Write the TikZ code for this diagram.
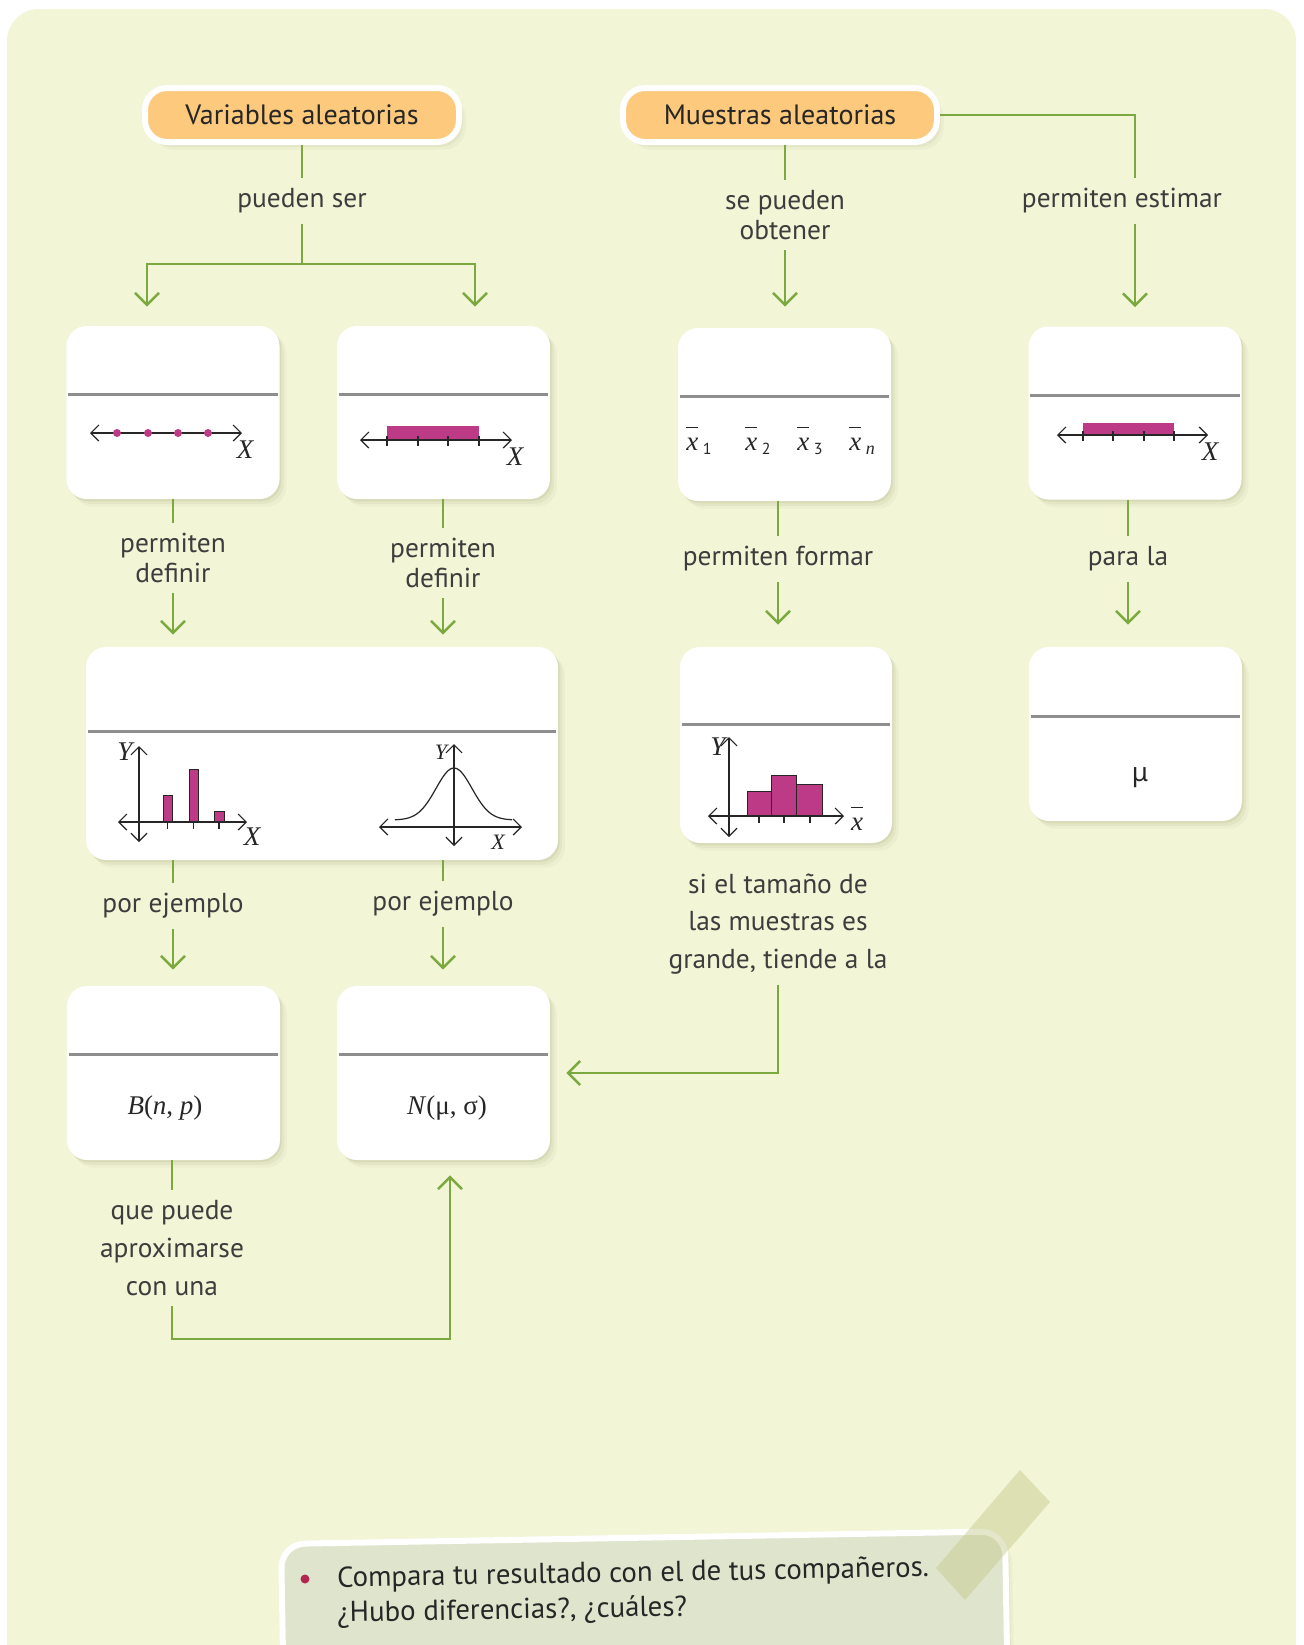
\documentclass[tikz,border=0pt]{standalone}
\usepackage{fontspec}
\setmainfont{PT Sans}
\newfontfamily\mathserif{Liberation Serif}
\newfontfamily\greeksans{Noto Sans}
\usetikzlibrary{positioning, arrows.meta, calc, shadows}
\definecolor{bgcol}{HTML}{F2F5D6}
\definecolor{greencol}{HTML}{7BA83F}
\definecolor{orangecol}{HTML}{FDC97C}
\definecolor{pinkcol}{HTML}{BD3A86}
\definecolor{dividercol}{HTML}{8E8E8E}
\definecolor{labelcol}{HTML}{3D3D3D}
\definecolor{notefill}{HTML}{DFE5CD}
\definecolor{tapecol}{HTML}{C4C88A}
\definecolor{bulletcol}{HTML}{B0264E}
\definecolor{shadowcol}{HTML}{7F8450}
\tikzset{
  softshadow/.style={
    drop shadow={shadow xshift=0.8pt, shadow yshift=-1pt, opacity=.12, fill=shadowcol},
    drop shadow={shadow xshift=2pt, shadow yshift=-2.4pt, opacity=.08, fill=shadowcol},
    drop shadow={shadow xshift=3.4pt, shadow yshift=-3.8pt, opacity=.05, fill=shadowcol}},
  card/.style={rectangle, fill=white, rounded corners=10pt, inner sep=0pt,
    minimum width=106.5pt, minimum height=86.5pt, softshadow},
  title/.style={rectangle, fill=orangecol, draw=white, line width=3pt, rounded corners=11pt,
    minimum width=157pt, minimum height=27pt, softshadow,
    font=\fontsize{14}{16}\selectfont, text=black!85},
  lbl/.style={font=\fontsize{13.7}{15}\selectfont, text=labelcol, align=center, inner sep=5pt},
  lblwide/.style={lbl, font=\fontsize{13.7}{18.8}\selectfont},
  conn/.style={draw=greencol, line width=1.25pt},
  arrow/.style={conn, ->},
  divider/.style={draw=dividercol, line width=1.5pt},
  axis/.style={draw=black!85, line width=0.6pt,
    {Straight Barb[length=4pt,width=8pt]}-{Straight Barb[length=4pt,width=8pt]}},
  tick/.style={draw=black!85, line width=0.6pt},
  bar/.style={fill=pinkcol, draw=black!85, line width=0.5pt},
  band/.style={fill=pinkcol},
  mathlbl/.style={inner sep=0pt, font=\mathserif\itshape\fontsize{13.5}{14}\selectfont, text=black!85},
  notebox/.style={rectangle, fill=notefill, draw=white, line width=3pt, rounded corners=12pt,
    softshadow},
  notetext/.style={inner sep=0pt, font=\fontsize{14.4}{17.5}\selectfont, text=black!85}
}
\newcommand{\carddivider}[2]{%
  \draw[divider] ([xshift=1pt,yshift=-#2]#1.north west) -- ([xshift=-1pt,yshift=-#2]#1.north east);
}
\newcommand{\xbar}[1]{$\overline{\vphantom{X}\mbox{\mathserif\itshape x}}_{\mbox{\,#1}}$}

\begin{document}
\begin{tikzpicture}[x=0.5pt, y=-0.5pt,
  >={Straight Barb[length=6pt, width=12pt]}]
  \useasboundingbox (0,0) rectangle (1303,1645);
  \clip (0,0) rectangle (1303,1645);
  \fill[white] (0,0) rectangle (1303,1645);
  \fill[bgcol, rounded corners=16pt] (7,9) rectangle (1296,1740);

  % titles
  \node[title] (Var) at (302,115) {Variables aleatorias};
  \node[title] (Mue) at (780,115) {Muestras aleatorias};

  % first row of cards
  \node[card] (A) at (173,412.5) {};
  \node[card] (B) at (443.5,412.5) {};
  \node[card] (C) at (784.5,414.5) {};
  \node[card] (D) at (1135,413) {};
  \carddivider{A}{34.5pt}
  \carddivider{B}{34.5pt}
  \carddivider{C}{34.5pt}
  \carddivider{D}{34.5pt}

  % second row
  \node[card, minimum width=236pt, minimum height=106.5pt] (E) at (322,753.5) {};
  \node[card, minimum width=106pt, minimum height=98pt] (F) at (786,745) {};
  \node[card, minimum height=87pt] (G) at (1135.5,734) {};
  \carddivider{E}{42.5pt}
  \carddivider{F}{39pt}
  \carddivider{G}{35pt}

  % third row
  \node[card, minimum height=87pt] (H) at (173.5,1073) {};
  \node[card, minimum height=87pt] (I) at (443.5,1073) {};
  \carddivider{H}{34.5pt}
  \carddivider{I}{34.5pt}

  % card A: discrete values
  \draw[axis] (90,433) -- (242,433);
  \foreach \d in {117,148,178,208}
    \fill[pinkcol] (\d,433) circle (2pt);
  \node[mathlbl] (xA) at (245,450) {X};

  % card B: interval
  \fill[band] (387,426) rectangle (479,440);
  \draw[axis] (360,440) -- (512,440);
  \foreach \t in {387,418,448,479}
    \draw[tick] (\t,436) -- (\t,446);
  \node[mathlbl] (xB) at (515,457) {X};

  % card C: sample means
  \foreach \p/\s in {686/\normalfont\fontsize{8}{8}\selectfont 1, 745/\normalfont\fontsize{8}{8}\selectfont 2,
                     797/\normalfont\fontsize{8}{8}\selectfont 3, 849/\mathserif\itshape\fontsize{9}{9}\selectfont n}
    \node[mathlbl, anchor=base west] at (\p,450) {\xbar{\s}};

  % card D: interval estimate
  \fill[band] (1083,423) rectangle (1174,435);
  \draw[axis] (1057,435) -- (1208,435);
  \foreach \t in {1083,1113,1144,1174}
    \draw[tick] (\t,431) -- (\t,441);
  \node[mathlbl] (xD) at (1210,452) {X};

  % card E: bar chart and bell curve
  \draw[bar] (163,822) rectangle (172,795);
  \draw[bar] (189,822) rectangle (198,769);
  \draw[bar] (214,822) rectangle (224,811);
  \foreach \t in {167.5,193.5,219}
    \draw[tick] (\t,822) -- (\t,829);
  \draw[axis] (139,842) -- (139,746);
  \draw[axis] (118,822) -- (247,822);
  \node[mathlbl] (yE) at (125,752) {Y};
  \node[mathlbl] (xE) at (252,837) {X};
  \draw[line width=0.6pt, black!85] plot[domain=395:512, samples=80, smooth]
    (\x, {820-52*exp(-((\x-454)/18)*((\x-454)/18)/2)});
  \draw[axis] (454,846) -- (454,744);
  \draw[axis] (379,827) -- (522,827);
  \node[mathlbl, font=\mathserif\itshape\fontsize{11}{12}\selectfont] (yN) at (441,752) {Y};
  \node[mathlbl, font=\mathserif\itshape\fontsize{11}{12}\selectfont] (xN) at (498,842) {X};

  % card F: histogram of means
  \draw[bar] (747,816) rectangle (771,791);
  \draw[bar] (771,816) rectangle (796,775);
  \draw[bar] (796,816) rectangle (822,784);
  \foreach \t in {759,784,810}
    \draw[tick] (\t,816) -- (\t,823);
  \draw[axis] (729,837) -- (729,737);
  \draw[axis] (708,816) -- (844,816);
  \node[mathlbl] (yF) at (718,747) {Y};
  \node[mathlbl, anchor=base] (xF) at (857,830) {$\overline{\vphantom{X}\mbox{\mathserif\itshape x}}$};

  % cards G, H, I
  \node[inner sep=0pt, font=\greeksans\fontsize{13}{14}\selectfont, text=black!85] (mu) at (1140,778) {μ};
  \node[inner sep=0pt, font=\mathserif\fontsize{13.5}{14}\selectfont, text=black!85] (binom) at (165,1108) {\textit{B}(\textit{n}, \textit{p})};
  \node[inner sep=0pt, font=\mathserif\fontsize{13.5}{14}\selectfont, text=black!85] (normal) at (447,1108) {\textit{N}(μ, σ)};

  % connector labels
  \node[lbl] (ser) at (302,201) {pueden ser};
  \node[lbl] (obt) at (785,215) {se pueden\\obtener};
  \node[lbl] (est) at (1122,201) {permiten estimar};
  \node[lbl] (defA) at (173,558) {permiten\\definir};
  \node[lbl] (defB) at (443,563) {permiten\\definir};
  \node[lbl] (form) at (778,559) {permiten formar};
  \node[lbl] (para) at (1128,559) {para la};
  \node[lbl] (ejA) at (173,906) {por ejemplo};
  \node[lbl] (ejB) at (443,904) {por ejemplo};
  \node[lblwide] (tam) at (778,924) {si el tamaño de\\las muestras es\\grande, tiende a la};
  \node[lblwide] (aprox) at (172,1248) {que puede\\aproximarse\\con una};

  % connectors
  \coordinate (split) at (302,264);
  \draw[conn] (Var.south) -- (ser.north);
  \draw[conn] (ser.south) -- (split);
  \draw[arrow, shorten >=9.5pt] (split) -| ([xshift=-13pt]A.north);
  \draw[arrow, shorten >=9.5pt] (split) -| ([xshift=15.75pt]B.north);

  \draw[conn] (Mue.south -| obt.north) -- (obt.north);
  \draw[arrow, shorten >=10.5pt] (obt.south) -- (obt.south |- C.north);
  \draw[conn] (Mue.east) -| (D.north |- est.north);
  \draw[arrow, shorten >=9.5pt] (D.north |- est.south) -- (D.north);

  \draw[conn] (A.south) -- (defA.north);
  \draw[arrow, shorten >=6pt] (defA.south) -- (defA.south |- E.north);
  \draw[conn] (B.south -| defB.north) -- (defB.north);
  \draw[arrow, shorten >=6pt] (defB.south) -- (defB.south |- E.north);
  \draw[conn] (C.south -| form.north) -- (form.north);
  \draw[arrow, shorten >=11pt] (form.south) -- (form.south |- F.north);
  \draw[conn] (D.south -| para.north) -- (para.north);
  \draw[arrow, shorten >=11pt] (para.south) -- (para.south |- G.north);

  \draw[conn] (E.south -| ejA.north) -- (ejA.north);
  \draw[arrow, shorten >=8pt] (ejA.south) -- (ejA.south |- H.north);
  \draw[conn] (E.south -| ejB.north) -- (ejB.north);
  \draw[arrow, shorten >=8pt] (ejB.south) -- (ejB.south |- I.north);
  \draw[arrow, shorten >=8pt] (tam.south) |- (I.east);

  \coordinate (turn) at (172,1339);
  \draw[conn] (H.south -| aprox.north) -- (aprox.north);
  \draw[arrow, shorten >=7.5pt] (aprox.south) -- (turn) -| ([xshift=3.25pt]I.south);

  % note at the bottom
  \node[notebox, rotate=1, anchor=north west, minimum width=362pt, minimum height=110pt] (note) at (278,1541) {};
  \fill[tapecol, opacity=.45] (1020,1470) -- (1050,1502) -- (965,1600) -- (936,1568) -- cycle;
  \node[circle, fill=bulletcol, inner sep=0pt, minimum size=4.5pt] (bul) at (305,1579) {};
  \node[notetext, rotate=1, anchor=base west] (q1) at (337,1587) {Compara tu resultado con el de tus compañeros.};
  \node[notetext, rotate=1, anchor=base west] (q2) at (337,1622) {¿Hubo diferencias?, ¿cuáles?};
\end{tikzpicture}
\end{document}
